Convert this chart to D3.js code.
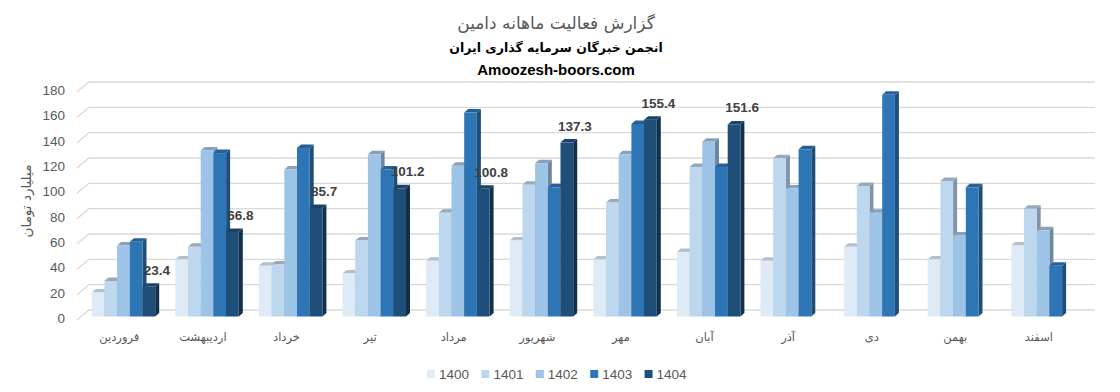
<!DOCTYPE html>
<html>
<head>
<meta charset="utf-8">
<script src="https://cdnjs.cloudflare.com/ajax/libs/d3/7.8.5/d3.min.js"></script>
<style>
  body { margin: 0; background: #fff; }
  svg { display: block; }
</style>
</head>
<body>
<div id="chart"></div>
<script>
// months (Persian calendar), left to right
const months = ["فروردین", "اردیبهشت", "خرداد", "تیر", "مرداد", "شهریور",
  "مهر", "آبان", "آذر", "دی", "بهمن", "اسفند"];

const years = ["1400", "1401", "1402", "1403", "1404"];

// values in billion toman
const v1400 = [19, 45, 40, 34, 44, 60, 45, 51, 44, 55, 45, 56];
const v1401 = [28, 55, 41, 60, 82, 104, 90, 118, 125, 103, 107, 85];
const v1402 = [56, 131, 116, 128, 119, 121, 128, 138, 101, 82, 64, 68];
const v1403 = [59, 129, 133, 116, 161, 102, 152, 118, 132, 175, 102, 40];
const v1404 = [23.4, 66.8, 85.7, 101.2, 100.8, 137.3, 155.4, 151.6, null, null, null, null];

const yTicks = [0, 20, 40, 60, 80, 100, 120, 140, 160, 180];

const series = [v1400, v1401, v1402, v1403, v1404];

// front / side / top colours for each year
const frontCol = ["#DEEBF7", "#BDD7EE", "#9DC3E6", "#2E75B6", "#1F4E79"];
const sideCol  = ["#A7B3C0", "#8194AA", "#6E86A1", "#1F4E79", "#13304B"];
const topCol   = ["#B4BFCB", "#9AA9BA", "#8AA0B8", "#25609A", "#1A426A"];

const W = 1120, H = 392;
const faFont = "'DejaVu Sans', sans-serif";
const numFont = "'Liberation Sans', Arial, sans-serif";

const svg = d3.select("#chart").append("svg")
  .attr("width", W)
  .attr("height", H);

const x0 = d3.scaleBand().domain(months).range([81.5, 1084.7]);
const x1 = d3.scaleBand().domain(years).range([10.2, 73.7]);
const y = d3.scaleLinear().domain([0, 180]).range([316.5, 88.5]);

const depthX = 4, depthY = 3.5;   // bar depth
const wallX = 12, wallY = 10;     // floor/wall depth

// ---- titles
svg.append("text")
  .attr("x", 556).attr("y", 29)
  .attr("text-anchor", "middle")
  .style("font-family", faFont).style("font-size", "17px")
  .style("fill", "#595959")
  .text("گزارش فعالیت ماهانه دامین");

svg.append("text")
  .attr("x", 556).attr("y", 52)
  .attr("text-anchor", "middle")
  .style("font-family", faFont).style("font-size", "12.5px")
  .style("font-weight", "bold").style("fill", "#000")
  .text("انجمن خبرگان سرمایه گذاری ایران");

svg.append("text")
  .attr("x", 556).attr("y", 75)
  .attr("text-anchor", "middle")
  .style("font-family", numFont).style("font-size", "15px")
  .style("font-weight", "bold").style("fill", "#000")
  .text("Amoozesh-boors.com");

// ---- grid (back wall + slanted floor edge)
const grid = svg.append("g");
yTicks.forEach(t => {
  grid.append("path")
    .attr("d", `M 77 ${y(t) + 3.5} L ${77 + wallX} ${y(t) + 3.5 - wallY} L 1095 ${y(t) + 3.5 - wallY}`)
    .attr("fill", "none")
    .attr("stroke", "#D9D9D9")
    .attr("stroke-width", 1.3);
});

// y tick labels
svg.append("g").selectAll("text")
  .data(yTicks)
  .join("text")
  .attr("x", 65)
  .attr("y", d => y(d) + 2)
  .attr("text-anchor", "end")
  .attr("dominant-baseline", "central")
  .style("font-family", numFont).style("font-size", "13.5px")
  .style("fill", "#595959")
  .text(d => d);

// y axis title
svg.append("text")
  .attr("transform", "translate(31,201) rotate(-90)")
  .attr("text-anchor", "middle")
  .style("font-family", faFont).style("font-size", "13.5px")
  .style("fill", "#595959")
  .text("میلیارد تومان");

// ---- bars
const bars = [];
months.forEach((m, i) => {
  years.forEach((yr, j) => {
    const v = series[j][i];
    if (v == null) return;
    bars.push({ month: m, year: yr, j: j, value: v });
  });
});

const barG = svg.append("g");
const bw = x1.bandwidth();

const barSel = barG.selectAll("g.bar")
  .data(bars)
  .join("g")
  .attr("class", "bar");

// side face
barSel.append("path")
  .attr("d", d => {
    const xr = x0(d.month) + x1(d.year) + bw;
    const yt = y(d.value), yb = y(0);
    return `M ${xr} ${yt} L ${xr + depthX} ${yt - depthY} L ${xr + depthX} ${yb - depthY} L ${xr} ${yb} Z`;
  })
  .attr("fill", d => sideCol[d.j]);

// top face
barSel.append("path")
  .attr("d", d => {
    const xl = x0(d.month) + x1(d.year);
    const yt = y(d.value);
    return `M ${xl} ${yt} L ${xl + depthX} ${yt - depthY} L ${xl + bw + depthX} ${yt - depthY} L ${xl + bw} ${yt} Z`;
  })
  .attr("fill", d => topCol[d.j]);

// front face
barSel.append("rect")
  .attr("x", d => x0(d.month) + x1(d.year))
  .attr("y", d => y(d.value))
  .attr("width", bw)
  .attr("height", d => y(0) - y(d.value))
  .attr("fill", d => frontCol[d.j]);

// data labels for 1404
svg.append("g").selectAll("text")
  .data(bars.filter(d => d.year === "1404"))
  .join("text")
  .attr("x", d => x0(d.month) + x1(d.year) + bw / 2 + 8)
  .attr("y", d => y(d.value) - 12)
  .attr("text-anchor", "middle")
  .style("font-family", numFont).style("font-size", "13.5px")
  .style("font-weight", "bold").style("fill", "#404040")
  .text(d => d.value.toFixed(1));

// x category labels
svg.append("g").selectAll("text")
  .data(months)
  .join("text")
  .attr("x", d => x0(d) + x0.bandwidth() / 2 - 4)
  .attr("y", 341)
  .attr("text-anchor", "middle")
  .style("font-family", faFont).style("font-size", "11.5px")
  .style("fill", "#595959")
  .text(d => d);

// ---- legend
const legend = svg.append("g").selectAll("g")
  .data(years)
  .join("g")
  .attr("transform", (d, i) => `translate(${427 + i * 54.4},370)`);

legend.append("rect")
  .attr("width", 8).attr("height", 8)
  .attr("fill", (d, i) => frontCol[i]);

legend.append("text")
  .attr("x", 12).attr("y", 8.5)
  .style("font-family", numFont).style("font-size", "13.5px")
  .style("fill", "#595959")
  .text(d => d);
</script>
</body>
</html>
